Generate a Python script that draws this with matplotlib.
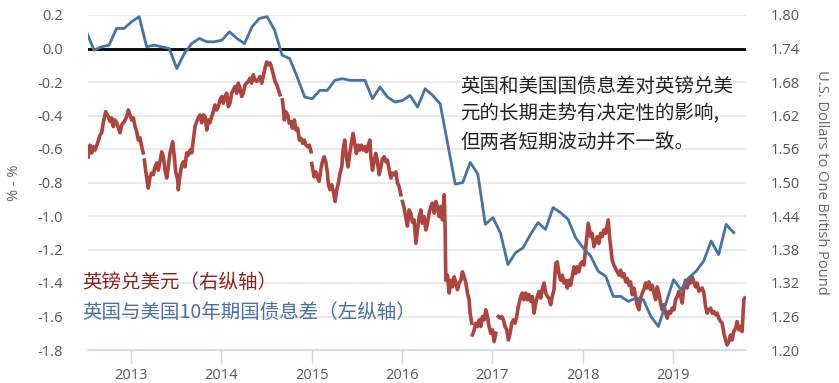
import numpy as np
import matplotlib
matplotlib.use("Agg")
import matplotlib.pyplot as plt

plt.rcParams['font.family'] = ['Noto Sans CJK SC', 'DejaVu Sans']

# ---------------- data ----------------
# UK - US 10y government bond spread (left axis, %), monthly from Jul 2012
spread_start = 2012.507
spread = [0.10, -0.01, 0.01, 0.02, 0.12, 0.12, 0.16, 0.19, 0.01, 0.02,
          0.01, 0.00, -0.12, -0.03, 0.03, 0.06, 0.04, 0.04, 0.05, 0.10,
          0.06, 0.03, 0.13, 0.18, 0.19, 0.11, -0.04, -0.06, -0.17, -0.29,
          -0.30, -0.25, -0.25, -0.19, -0.18, -0.19, -0.19, -0.19, -0.30, -0.23,
          -0.29, -0.32, -0.31, -0.28, -0.35, -0.24, -0.28, -0.33, -0.57, -0.81,
          -0.80, -0.68, -0.75, -1.05, -1.01, -1.10, -1.29, -1.22, -1.19, -1.11,
          -1.04, -1.08, -0.95, -0.98, -1.02, -1.13, -1.19, -1.24, -1.33, -1.36,
          -1.48, -1.48, -1.51, -1.49, -1.50, -1.60, -1.66, -1.52, -1.38, -1.44,
          -1.37, -1.33, -1.27, -1.15, -1.23, -1.05, -1.10]

NaN = float('nan')
# GBP/USD (right axis), decimal year -> value
gbp_t = [2012.527, 2012.546, 2012.565, 2012.583, 2012.602, 2012.631, 2012.657, 2012.676, 2012.693, 2012.720,
         2012.749, 2012.768, 2012.786, 2012.804, 2012.823, 2012.842, 2012.860, 2012.878, 2012.897, 2012.926,
         2012.953, 2012.970, 2012.989, 2013.008, 2013.026, 2013.045, 2013.063, 2013.081, 2013.100, 2013.119,
         2013.136, 2013.142, 2013.148, 2013.166, 2013.192, 2013.211, 2013.229, 2013.247, 2013.266, 2013.285,
         2013.303, 2013.321, 2013.340, 2013.358, 2013.377, 2013.396, 2013.413, 2013.432, 2013.462, 2013.480,
         2013.495, 2013.517, 2013.524, 2013.543, 2013.562, 2013.579, 2013.598, 2013.617, 2013.635, 2013.654,
         2013.672, 2013.690, 2013.709, 2013.728, 2013.745, 2013.764, 2013.783, 2013.801, 2013.820, 2013.839,
         2013.856, 2013.875, 2013.894, 2013.912, 2013.930, 2013.949, 2013.967, 2013.986, 2014.005, 2014.022,
         2014.041, 2014.060, 2014.078, 2014.096, 2014.115, 2014.133, 2014.152, 2014.171, 2014.188, 2014.207,
         2014.226, 2014.244, 2014.263, 2014.281, 2014.299, 2014.318, 2014.336, 2014.354, 2014.373, 2014.392,
         2014.410, 2014.429, 2014.447, 2014.465, 2014.484, 2014.503, 2014.521, 2014.540, 2014.558, 2014.576,
         2014.595, 2014.614, 2014.632, 2014.650, 2014.663, 2014.676, 2014.687, 2014.698, 2014.713, 2014.736,
         2014.753, 2014.772, 2014.787, 2014.809, 2014.828, 2014.846, 2014.864, 2014.883, 2014.902, 2014.920,
         2014.938, 2014.957, 2014.975, 2014.994, 2014.998, 2015.002, 2015.027, 2015.046, 2015.064, 2015.083,
         2015.101, 2015.119, 2015.138, 2015.157, 2015.175, 2015.186, 2015.205, 2015.223, 2015.241, 2015.260,
         2015.279, 2015.296, 2015.315, 2015.334, 2015.348, 2015.367, 2015.385, 2015.404, 2015.422, 2015.440,
         2015.459, 2015.478, 2015.496, 2015.515, 2015.533, 2015.551, 2015.570, 2015.589, 2015.607, 2015.626,
         2015.645, 2015.656, 2015.674, 2015.693, 2015.711, 2015.729, 2015.748, 2015.767, 2015.785, 2015.804,
         2015.822, 2015.840, 2015.859, 2015.878, 2015.895, 2015.914, 2015.933, 2015.951, 2015.969, 2015.988,
         2015.997, 2016.006, 2016.025, 2016.044, 2016.061, 2016.080, 2016.099, 2016.117, 2016.135, 2016.154,
         2016.172, 2016.191, 2016.210, 2016.227, 2016.246, 2016.265, 2016.283, 2016.301, 2016.320, 2016.338,
         2016.357, 2016.376, 2016.393, 2016.412, 2016.431, 2016.449, 2016.468, 2016.479, 2016.486, 2016.504,
         2016.523, 2016.542, 2016.560, 2016.579, 2016.597, 2016.615, 2016.634, 2016.653, 2016.670, 2016.689,
         2016.708, 2016.726, 2016.744, 2016.755, 2016.774, 2016.778, 2016.781, 2016.800, 2016.819, 2016.836,
         2016.855, 2016.874, 2016.891, 2016.910, 2016.929, 2016.947, 2016.965, 2016.984, 2017.002, 2017.021,
         2017.040, 2017.054, 2017.068, 2017.087, 2017.106, 2017.124, 2017.142, 2017.161, 2017.179, 2017.198,
         2017.216, 2017.234, 2017.253, 2017.271, 2017.289, 2017.316, 2017.333, 2017.352, 2017.371, 2017.389,
         2017.408, 2017.426, 2017.444, 2017.463, 2017.482, 2017.499, 2017.518, 2017.537, 2017.554, 2017.573,
         2017.592, 2017.610, 2017.628, 2017.647, 2017.665, 2017.684, 2017.703, 2017.720, 2017.739, 2017.758,
         2017.775, 2017.794, 2017.813, 2017.831, 2017.850, 2017.868, 2017.886, 2017.905, 2017.924, 2017.941,
         2017.960, 2017.979, 2017.997, 2018.015, 2018.034, 2018.063, 2018.089, 2018.107, 2018.126, 2018.145,
         2018.163, 2018.181, 2018.200, 2018.218, 2018.237, 2018.256, 2018.284, 2018.303, 2018.329, 2018.347,
         2018.366, 2018.384, 2018.403, 2018.422, 2018.439, 2018.458, 2018.477, 2018.495, 2018.514, 2018.532,
         2018.550, 2018.569, 2018.588, 2018.605, 2018.624, 2018.643, 2018.661, 2018.679, 2018.698, 2018.716,
         2018.735, 2018.753, 2018.771, 2018.790, 2018.809, 2018.827, 2018.845, 2018.864, 2018.882, 2018.901,
         2018.920, 2018.937, 2018.956, 2018.975, 2018.993, 2019.012, 2019.030, 2019.048, 2019.067, 2019.086,
         2019.103, 2019.122, 2019.141, 2019.159, 2019.177, 2019.196, 2019.214, 2019.233, 2019.251, 2019.270,
         2019.288, 2019.307, 2019.325, 2019.344, 2019.362, 2019.380, 2019.399, 2019.418, 2019.435, 2019.454,
         2019.473, 2019.491, 2019.509, 2019.528, 2019.546, 2019.565, 2019.583, 2019.601, 2019.620, 2019.638,
         2019.656, 2019.675, 2019.694, 2019.712, 2019.730, 2019.749, 2019.767, 2019.786, 2019.797]
gbp_v = [1.546, 1.567, 1.553, 1.564, 1.558, 1.571, 1.585, 1.589, 1.607, 1.627,
         1.618, 1.609, 1.616, 1.600, 1.612, 1.607, 1.598, 1.589, 1.603, 1.609,
         1.618, 1.630, 1.621, 1.612, 1.616, 1.600, 1.591, 1.576, 1.580, 1.564,
         1.553, NaN, 1.540, 1.517, 1.490, 1.510, 1.517, 1.514, 1.528, 1.535,
         1.522, 1.537, 1.555, 1.546, 1.522, 1.508, 1.528, 1.553, 1.573, 1.546,
         1.519, 1.505, 1.487, 1.514, 1.531, 1.537, 1.528, 1.553, 1.549, 1.558,
         1.553, 1.576, 1.600, 1.609, 1.616, 1.621, 1.607, 1.621, 1.618, 1.594,
         1.612, 1.607, 1.618, 1.627, 1.639, 1.630, 1.636, 1.648, 1.654, 1.642,
         1.654, 1.660, 1.636, 1.642, 1.660, 1.666, 1.672, 1.660, 1.678, 1.669,
         1.654, 1.660, 1.675, 1.678, 1.681, 1.687, 1.678, 1.693, 1.684, 1.681,
         1.684, 1.690, 1.678, 1.690, 1.705, 1.716, 1.711, 1.714, 1.705, 1.693,
         1.681, 1.675, 1.666, 1.657, NaN, 1.648, 1.633, 1.612, 1.627, 1.621,
         1.606, 1.609, 1.597, 1.612, 1.594, 1.597, 1.576, 1.579, 1.570, 1.576,
         1.567, 1.564, 1.567, 1.555, NaN, 1.534, 1.510, 1.519, 1.510, 1.502,
         1.522, 1.537, 1.546, 1.537, 1.517, 1.496, 1.487, 1.496, 1.484, 1.466,
         1.487, 1.499, 1.517, 1.528, 1.558, 1.576, 1.546, 1.528, 1.552, 1.570,
         1.588, 1.570, 1.552, 1.567, 1.558, 1.567, 1.558, 1.564, 1.555, 1.567,
         1.576, 1.546, 1.522, 1.540, 1.552, 1.537, 1.514, 1.528, 1.543, 1.546,
         1.537, 1.540, 1.522, 1.508, 1.517, 1.514, 1.519, 1.499, 1.493, 1.478,
         NaN, 1.466, 1.454, 1.436, 1.422, 1.451, 1.444, 1.429, 1.433, 1.391,
         1.415, 1.439, 1.451, 1.427, 1.439, 1.415, 1.427, 1.445, 1.457, 1.463,
         1.445, 1.466, 1.457, 1.439, 1.457, 1.433, 1.478, 1.415, 1.325, 1.334,
         1.302, 1.325, 1.313, 1.331, 1.320, 1.308, 1.320, 1.325, 1.340, 1.331,
         1.320, 1.302, 1.290, 1.266, 1.248, NaN, 1.227, 1.236, 1.248, 1.242,
         1.254, 1.242, 1.260, 1.254, 1.272, 1.260, 1.242, 1.230, 1.236, 1.215,
         1.230, NaN, 1.260, 1.257, 1.260, 1.254, 1.242, 1.236, 1.218, 1.230,
         1.248, 1.254, 1.248, 1.260, 1.278, 1.296, 1.302, 1.290, 1.302, 1.290,
         1.299, 1.287, 1.296, 1.266, 1.284, 1.296, 1.305, 1.293, 1.308, 1.320,
         1.302, 1.296, 1.293, 1.281, 1.296, 1.308, 1.355, 1.358, 1.337, 1.325,
         1.334, 1.320, 1.325, 1.311, 1.325, 1.316, 1.331, 1.349, 1.337, 1.349,
         1.340, 1.355, 1.358, 1.352, 1.382, 1.427, 1.403, 1.409, 1.385, 1.394,
         1.403, 1.391, 1.409, 1.403, 1.415, 1.409, 1.433, 1.397, 1.361, 1.352,
         1.346, 1.340, 1.334, 1.343, 1.331, 1.337, 1.322, 1.328, 1.316, 1.322,
         1.299, 1.311, 1.296, 1.281, 1.272, 1.293, 1.302, 1.308, 1.320, 1.311,
         1.322, 1.308, 1.316, 1.302, 1.290, 1.313, 1.302, 1.284, 1.272, 1.281,
         1.266, 1.257, 1.269, 1.266, 1.275, 1.272, 1.290, 1.296, 1.305, 1.296,
         1.284, 1.313, 1.325, 1.311, 1.325, 1.320, 1.331, 1.322, 1.313, 1.320,
         1.305, 1.308, 1.311, 1.302, 1.278, 1.266, 1.272, 1.275, 1.266, 1.269,
         1.263, 1.266, 1.257, 1.251, 1.248, 1.230, 1.218, 1.209, 1.215, 1.227,
         1.218, 1.233, 1.239, 1.251, 1.236, 1.242, 1.233, 1.290, 1.293]

years = [2013, 2014, 2015, 2016, 2017, 2018, 2019]
year_labels = ['2013', '2014', '2015', '2016', '2017', '2018', '2019']
left_ticks = [0.2, 0.0, -0.2, -0.4, -0.6, -0.8, -1.0, -1.2, -1.4, -1.6, -1.8]
right_ticks = [1.80, 1.74, 1.68, 1.62, 1.56, 1.50, 1.44, 1.38, 1.32, 1.26, 1.20]

legend_gbp = '英镑兑美元（右纵轴）'
legend_spread = '英国与美国10年期国债息差（左纵轴）'
note_lines = ['英国和美国国债息差对英镑兑美', '元的长期走势有决定性的影响,', '但两者短期波动并不一致。']

# ---------------- styling ----------------
RED = '#ad443e'
BLUE = '#4572a7'
RED_TXT = '#8e2020'
BLUE_TXT = '#4a6ea6'
TICK_C = '#555555'
GRID_C = '#e6e6e6'
AXIS_C = '#ccd6eb'

W, H = 839, 383
fig = plt.figure(figsize=(W / 100, H / 100), dpi=100)
L, R, T, B = 88, 746, 15, 350
rect = [L / W, 1 - B / H, (R - L) / W, (B - T) / H]

ax2 = fig.add_axes(rect)             # right axis (bottom layer): grid + GBP
ax = fig.add_axes(rect, sharex=ax2)  # left axis on top
ax.patch.set_visible(False)

spread_t = [spread_start + i / 12 for i in range(len(spread))]

# right axis
ax2.plot(gbp_t, gbp_v, color=RED, lw=2.6, solid_joinstyle='round', zorder=3)
ax2.set_ylim(1.20, 1.80)
ax2.set_yticks(right_ticks)
ax2.set_yticklabels([f'{v:.2f}' for v in right_ticks])
ax2.yaxis.tick_right()
ax2.yaxis.set_label_position('right')
ax2.grid(axis='y', color=GRID_C, lw=1.2, zorder=0)
ax2.set_axisbelow(True)
ax2.tick_params(axis='y', length=0, pad=18, labelsize=10.5, labelcolor=TICK_C)
ax2.set_ylabel('U.S. Dollars to One British Pound', rotation=-90,
               fontsize=10.5, color='#666666', family=['Open Sans', 'DejaVu Sans'],
               va='center')
ax2.yaxis.set_label_coords((822 - L) / (R - L), 0.5)
for lab in ax2.get_yticklabels():
    lab.set_family(['Open Sans', 'DejaVu Sans'])

# left axis
ax.plot(spread_t, spread, color=BLUE, lw=2.0, solid_joinstyle='round', zorder=4)
ax.axhline(0, color='black', lw=2.0, zorder=3)
ax.set_ylim(-1.8, 0.2)
ax.set_yticks(left_ticks)
ax.set_yticklabels([f'{v:.1f}' for v in left_ticks])
ax.tick_params(axis='y', length=0, pad=18, labelsize=10.5, labelcolor=TICK_C)
ax.set_ylabel('% - %', fontsize=10.5, color='#666666',
              family=['Open Sans', 'DejaVu Sans'], va='center')
ax.yaxis.set_label_coords((15 - L) / (R - L), 0.5)
for lab in ax.get_yticklabels():
    lab.set_family(['Open Sans', 'DejaVu Sans'])

ax.set_xlim(2012.524, 2019.81)
ax.set_xticks(years)
ax.set_xticklabels(year_labels)
ax.tick_params(axis='x', length=9, width=1, color=AXIS_C, labelsize=10.5,
               labelcolor=TICK_C, pad=4)
for lab in ax.get_xticklabels():
    lab.set_family(['Open Sans', 'DejaVu Sans'])
ax2.tick_params(axis='x', length=0, labelbottom=False)

for a in (ax, ax2):
    for s in ('top', 'left', 'right'):
        a.spines[s].set_visible(False)
ax2.spines['bottom'].set_visible(False)
ax.spines['bottom'].set_color(AXIS_C)
ax.spines['bottom'].set_linewidth(1.2)

# annotation texts
def fx(px):
    return px / W

def fy(py):
    return 1 - py / H

for i, line in enumerate(note_lines):
    fig.text(fx(460), fy(86 + 28 * i), line, fontsize=14, color='#222222',
             va='center', ha='left')

fig.text(fx(82), fy(283), legend_gbp, fontsize=14, color=RED_TXT, va='center', ha='left')
fig.text(fx(82), fy(312), legend_spread, fontsize=14, color=BLUE_TXT, va='center', ha='left')

fig.savefig('out.png', dpi=100)
